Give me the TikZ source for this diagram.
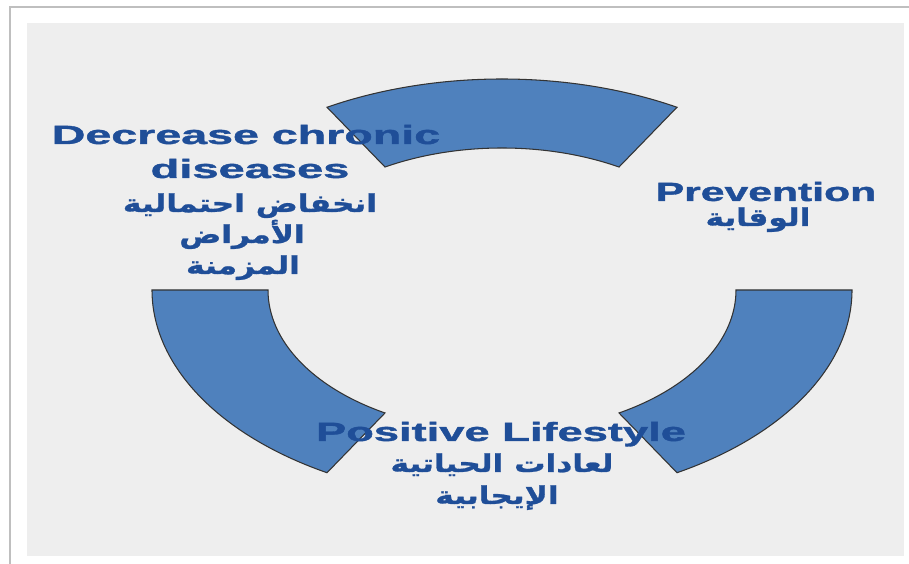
\documentclass[tikz,border=0pt]{standalone}
\usepackage{fontspec}
\setmainfont{Liberation Sans}[BoldFeatures={FakeBold=1.2}]
\newfontfamily\arabicfont{DejaVu Sans}[Script=Arabic, BoldFeatures={FakeBold=1}]
\TeXXeTstate=1

\definecolor{segblue}{RGB}{79,129,189}
\definecolor{txtblue}{RGB}{31,78,152}
\definecolor{panelgray}{RGB}{238,238,238}

\tikzset{
  segment/.style={fill=segblue, draw=black!80, line width=0.6pt},
  entxt/.style={text=txtblue, font=\fontsize{15}{18}\selectfont\bfseries,
    xscale=1.66, anchor=base, inner sep=0pt},
  artxt/.style={text=txtblue, font=\fontsize{14}{16}\selectfont\arabicfont\bfseries,
    xscale=1.27, anchor=base, inner sep=0pt}
}

\begin{document}
\begin{tikzpicture}[x=0.02cm, y=0.02cm]

    % frame
    \useasboundingbox (0,0) rectangle (909,564);
    \fill[white] (0,0) rectangle (909,564);
    \draw[black!25, line width=1.2pt] (10,0) -- (10,557) -- (909,557);
    \fill[panelgray] (27,8) rectangle (904,541);

    % ring
    \begin{scope}[shift={(502,274)}]
        % top
        \draw[segment] (60:350 and 211) arc[start angle=60, end angle=120, x radius=350, y radius=211]
            -- (120:234 and 142) arc[start angle=120, end angle=60, x radius=234, y radius=142] -- cycle;
        % left
        \draw[segment] (180:350 and 211) arc[start angle=180, end angle=240, x radius=350, y radius=211]
            -- (240:234 and 142) arc[start angle=240, end angle=180, x radius=234, y radius=142] -- cycle;
        % right
        \draw[segment] (300:350 and 211) arc[start angle=300, end angle=360, x radius=350, y radius=211]
            -- (360:234 and 142) arc[start angle=360, end angle=300, x radius=234, y radius=142] -- cycle;
    \end{scope}

    % decrease chronic diseases
    \node[entxt, xscale=1.065] (decrease) at (246,420) {Decrease chronic};
    \node[entxt, xscale=1.075] (diseases) at (250,386) {diseases};
    \node[artxt] (decreasear1) at (250,352) {\beginR انخفاض احتمالية\endR};
    \node[artxt] (decreasear2) at (242,321) {\beginR الأمراض\endR};
    \node[artxt] (decreasear3) at (243,290) {\beginR المزمنة\endR};

    % prevention
    \node[entxt, xscale=0.975] (prevention) at (766,363) {Prevention};
    \node[artxt] (preventionar) at (758,338) {\beginR الوقاية\endR};

    % positive lifestyle
    \node[entxt, xscale=1.035] (lifestyle) at (501,123) {Positive Lifestyle};
    \node[artxt] (lifestylear1) at (502,92) {\beginR لعادات الحياتية\endR};
    \node[artxt] (lifestylear2) at (497,60) {\beginR الإيجابية\endR};

\end{tikzpicture}
\end{document}
